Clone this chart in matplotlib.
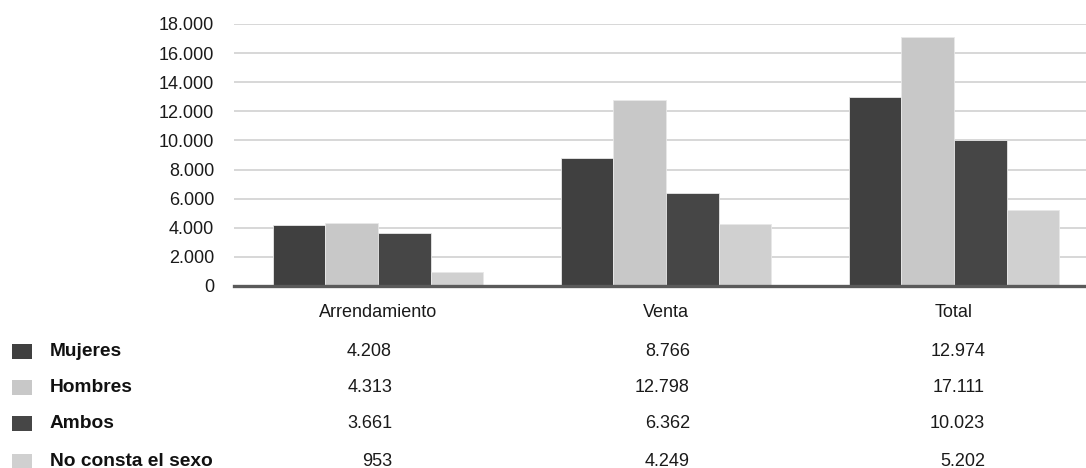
import matplotlib
matplotlib.use('Agg')
import matplotlib.pyplot as plt
from matplotlib.patches import Rectangle
import numpy as np

categories = ['Arrendamiento', 'Venta', 'Total']
series_names = ['Mujeres', 'Hombres', 'Ambos', 'No consta el sexo']
mujeres = [4208, 8766, 12974]
hombres = [4313, 12798, 17111]
ambos = [3661, 6362, 10023]
no_consta = [953, 4249, 5202]
yticks = [0, 2000, 4000, 6000, 8000, 10000, 12000, 14000, 16000, 18000]
ytick_labels = ['0', '2.000', '4.000', '6.000', '8.000', '10.000',
                '12.000', '14.000', '16.000', '18.000']

series = [mujeres, hombres, ambos, no_consta]
colors = ['#404040', '#c8c8c8', '#464646', '#d0d0d0']

def fmt(v):
    return f"{v:,}".replace(',', '.')

W, H = 1086, 468
plt.rcParams['font.family'] = ['Liberation Sans', 'DejaVu Sans']
fig = plt.figure(figsize=(W / 100, H / 100), dpi=100)
ax = fig.add_axes([234 / W, (H - 286) / H, 864 / W, 262 / H])

x = np.arange(len(categories))
bw = 0.1823
for i, (vals, c) in enumerate(zip(series, colors)):
    ax.bar(x + (i - 1.5) * bw, vals, width=bw, color=c, edgecolor='#e8e8e8',
           linewidth=0.6, zorder=2)

ax.set_xlim(-0.5, 2.5)
ax.set_ylim(0, 18000)
ax.set_yticks(yticks)
ax.set_yticklabels(ytick_labels, fontsize=13, color='#1a1a1a')
ax.set_xticks(x)
ax.set_xticklabels(categories, fontsize=13, color='#1a1a1a')
ax.tick_params(axis='y', length=0, pad=14.4)
ax.tick_params(axis='x', length=0, pad=13)
ax.grid(axis='y', color='#d4d4d4', linewidth=1.3, zorder=0)
ax.set_axisbelow(True)
for s in ['top', 'right', 'left']:
    ax.spines[s].set_visible(False)
ax.spines['bottom'].set_color('#5a5a5a')
ax.spines['bottom'].set_linewidth(2.4)
ax.spines['bottom'].set_zorder(3)

# data table below
row_y = [351, 387, 423, 461]
col_right = [392, 690, 985]
for r, (name, vals, c) in enumerate(zip(series_names, series, colors)):
    yc = row_y[r]
    fig.add_artist(Rectangle((12 / W, 1 - (yc + 8) / H), 20 / W, 15 / H,
                             transform=fig.transFigure, facecolor=c,
                             edgecolor='none'))
    fig.text(50 / W, 1 - yc / H, name, fontsize=13.8, fontweight='bold',
             ha='left', va='center', color='#111111')
    for j, v in enumerate(vals):
        fig.text(col_right[j] / W, 1 - yc / H, fmt(v), fontsize=13,
                 ha='right', va='center', color='#1a1a1a')

fig.savefig('out.png', dpi=100)
